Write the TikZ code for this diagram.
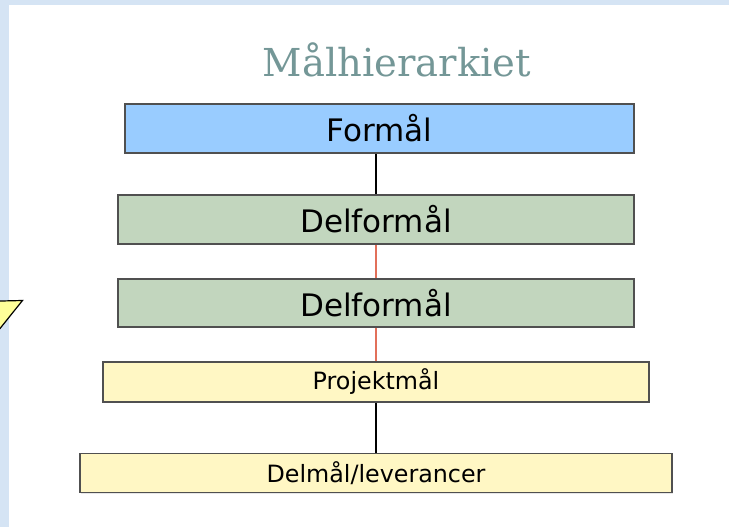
\documentclass[tikz,border=0pt]{standalone}
\usepackage{fontspec}
\setmainfont{DejaVu Sans}
\newfontfamily\titlefont{DejaVu Serif}
\usetikzlibrary{shadows}
\definecolor{frameblue}{HTML}{D5E4F4}
\definecolor{boxblue}{HTML}{99CCFF}
\definecolor{boxgreen}{HTML}{C2D6BE}
\definecolor{boxcream}{HTML}{FFF7C4}
\definecolor{edgegray}{HTML}{505050}
\definecolor{titlecol}{HTML}{749797}
\definecolor{linkred}{HTML}{E2705A}
\definecolor{triyellow}{HTML}{FFFF99}
\tikzset{
  goalbox/.style={draw=edgegray, line width=1.7pt, inner sep=0pt,
    drop shadow={shadow xshift=1.2pt, shadow yshift=-1.2pt, fill=black!18}},
  bigtext/.style={font=\fontsize{31}{33}\selectfont},
  smalltext/.style={font=\fontsize{23.8}{25}\selectfont},
  blacklink/.style={draw=black, line width=1.8pt},
  redlink/.style={draw=linkred, line width=1.8pt},
}
\begin{document}
\begin{tikzpicture}[x=1pt,y=-1pt]
  \useasboundingbox (0,0) rectangle (729,527);
  \fill[white] (0,0) rectangle (729,527);
  % frame strips along top and left
  \fill[frameblue] (0,0) rectangle (729,5);
  \fill[frameblue] (0,0) rectangle (9,527);
  % yellow marker at the left edge
  \begin{scope}
    \clip (0,0) rectangle (729,527);
    \draw[fill=triyellow, line width=1.2pt, line join=miter]
      (-20,301.5) -- (22.5,300.5) -- (-6,336) -- cycle;
  \end{scope}
  % title
  \node[text=titlecol, font=\titlefont\fontsize{38.5}{41}\selectfont] (title) at (397,60) {Målhierarkiet};
  % goal boxes
  \node[goalbox, fill=boxblue, bigtext, minimum width=509pt, minimum height=49pt] (formaal) at (379.5,128.5) {Formål};
  \node[goalbox, fill=boxgreen, bigtext, minimum width=516pt, minimum height=49pt] (delA) at (376,219.5) {Delformål};
  \node[goalbox, fill=boxgreen, bigtext, minimum width=516pt, minimum height=48pt] (delB) at (376,303) {Delformål};
  \node[goalbox, fill=boxcream, smalltext, minimum width=546pt, minimum height=40pt] (projekt) at (376,382) {Projektmål};
  \node[goalbox, fill=boxcream, smalltext, minimum width=592pt, minimum height=39pt] (levering) at (376,473) {Delmål/leverancer};
  % connectors
  \draw[blacklink] (delA.north |- formaal.south) -- (delA.north);
  \draw[redlink] (delA.south) -- (delB.north);
  \draw[redlink] (delB.south) -- (projekt.north);
  \draw[blacklink] (projekt.south) -- (levering.north);
\end{tikzpicture}
\end{document}
